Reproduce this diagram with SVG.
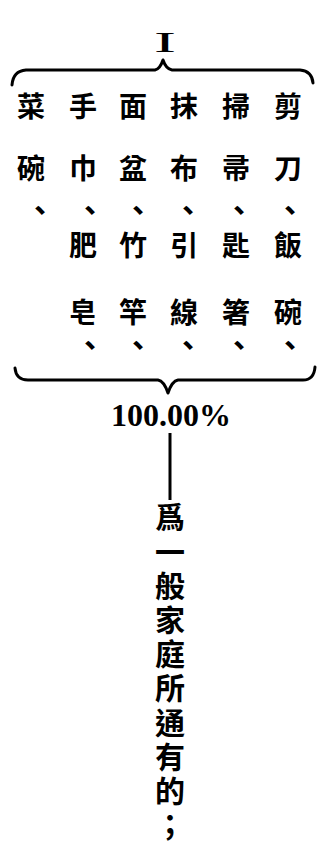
<svg xmlns="http://www.w3.org/2000/svg" width="326" height="846" viewBox="0 0 326 846">
<style>
.cjk{font-family:"Noto Sans CJK TC","Noto Sans CJK JP",sans-serif;font-weight:700;fill:#000;text-anchor:middle;writing-mode:vertical-rl}
.item{font-size:28px}
.cm{font-size:30px}
.vert{font-size:30px;text-anchor:start;letter-spacing:4.2px}
.num{font-family:"Liberation Serif",serif;fill:#000;text-anchor:middle}
.brace{fill:none;stroke:#000;stroke-width:3;stroke-linecap:round;stroke-linejoin:round}
</style>
<rect width="326" height="846" fill="#fff"/>
<g id="connectors">
<path class="brace" d="M12,85 Q13,71 26,70 L155,70 Q160,69 163,60 Q166,69 172,70 L300,70 Q312,71 313,83"/>
<path class="brace" d="M15,368 Q16,380 28,380 L158,380 Q164,381 168,393 Q172,381 178,380 L303,380 Q314,380 315,367"/>
<line x1="170" y1="433" x2="170" y2="500" stroke="#000" stroke-width="3"/>
</g>
<g id="node-I">
<text class="num" x="165" y="52" font-size="30" textLength="22" lengthAdjust="spacingAndGlyphs">I</text>
</g>
<g id="node-items" class="item">
<g id="col1">
<text class="cjk" x="31" y="106">菜</text><text class="cjk" x="31" y="168">碗</text><text class="cjk cm" x="40" y="210">、</text>
</g>
<g id="col2">
<text class="cjk" x="83" y="106">手</text><text class="cjk" x="83" y="168">巾</text><text class="cjk cm" x="90" y="210">、</text>
<text class="cjk" x="83" y="245">肥</text><text class="cjk" x="83" y="312">皂</text><text class="cjk cm" x="90" y="345">、</text>
</g>
<g id="col3">
<text class="cjk" x="133" y="106">面</text><text class="cjk" x="133" y="168">盆</text><text class="cjk cm" x="138" y="210">、</text>
<text class="cjk" x="133" y="245">竹</text><text class="cjk" x="133" y="312">竿</text><text class="cjk cm" x="138" y="345">、</text>
</g>
<g id="col4">
<text class="cjk" x="184" y="106">抹</text><text class="cjk" x="184" y="168">布</text><text class="cjk cm" x="188" y="210">、</text>
<text class="cjk" x="184" y="245">引</text><text class="cjk" x="184" y="312">線</text><text class="cjk cm" x="188" y="345">、</text>
</g>
<g id="col5">
<text class="cjk" x="236" y="106">掃</text><text class="cjk" x="236" y="168">帚</text><text class="cjk cm" x="239" y="210">、</text>
<text class="cjk" x="236" y="245">匙</text><text class="cjk" x="236" y="312">箸</text><text class="cjk cm" x="239" y="345">、</text>
</g>
<g id="col6">
<text class="cjk" x="288" y="106">剪</text><text class="cjk" x="288" y="168">刀</text><text class="cjk cm" x="290" y="210">、</text>
<text class="cjk" x="288" y="245">飯</text><text class="cjk" x="288" y="312">碗</text><text class="cjk cm" x="290" y="345">、</text>
</g>
</g>
<g id="node-total">
<text class="num" x="171" y="426" font-size="32" font-weight="700">100.00%</text>
</g>
<g id="node-note">
<text class="cjk vert" x="170" y="502">爲一般家庭所通有的；</text>
</g>
</svg>
